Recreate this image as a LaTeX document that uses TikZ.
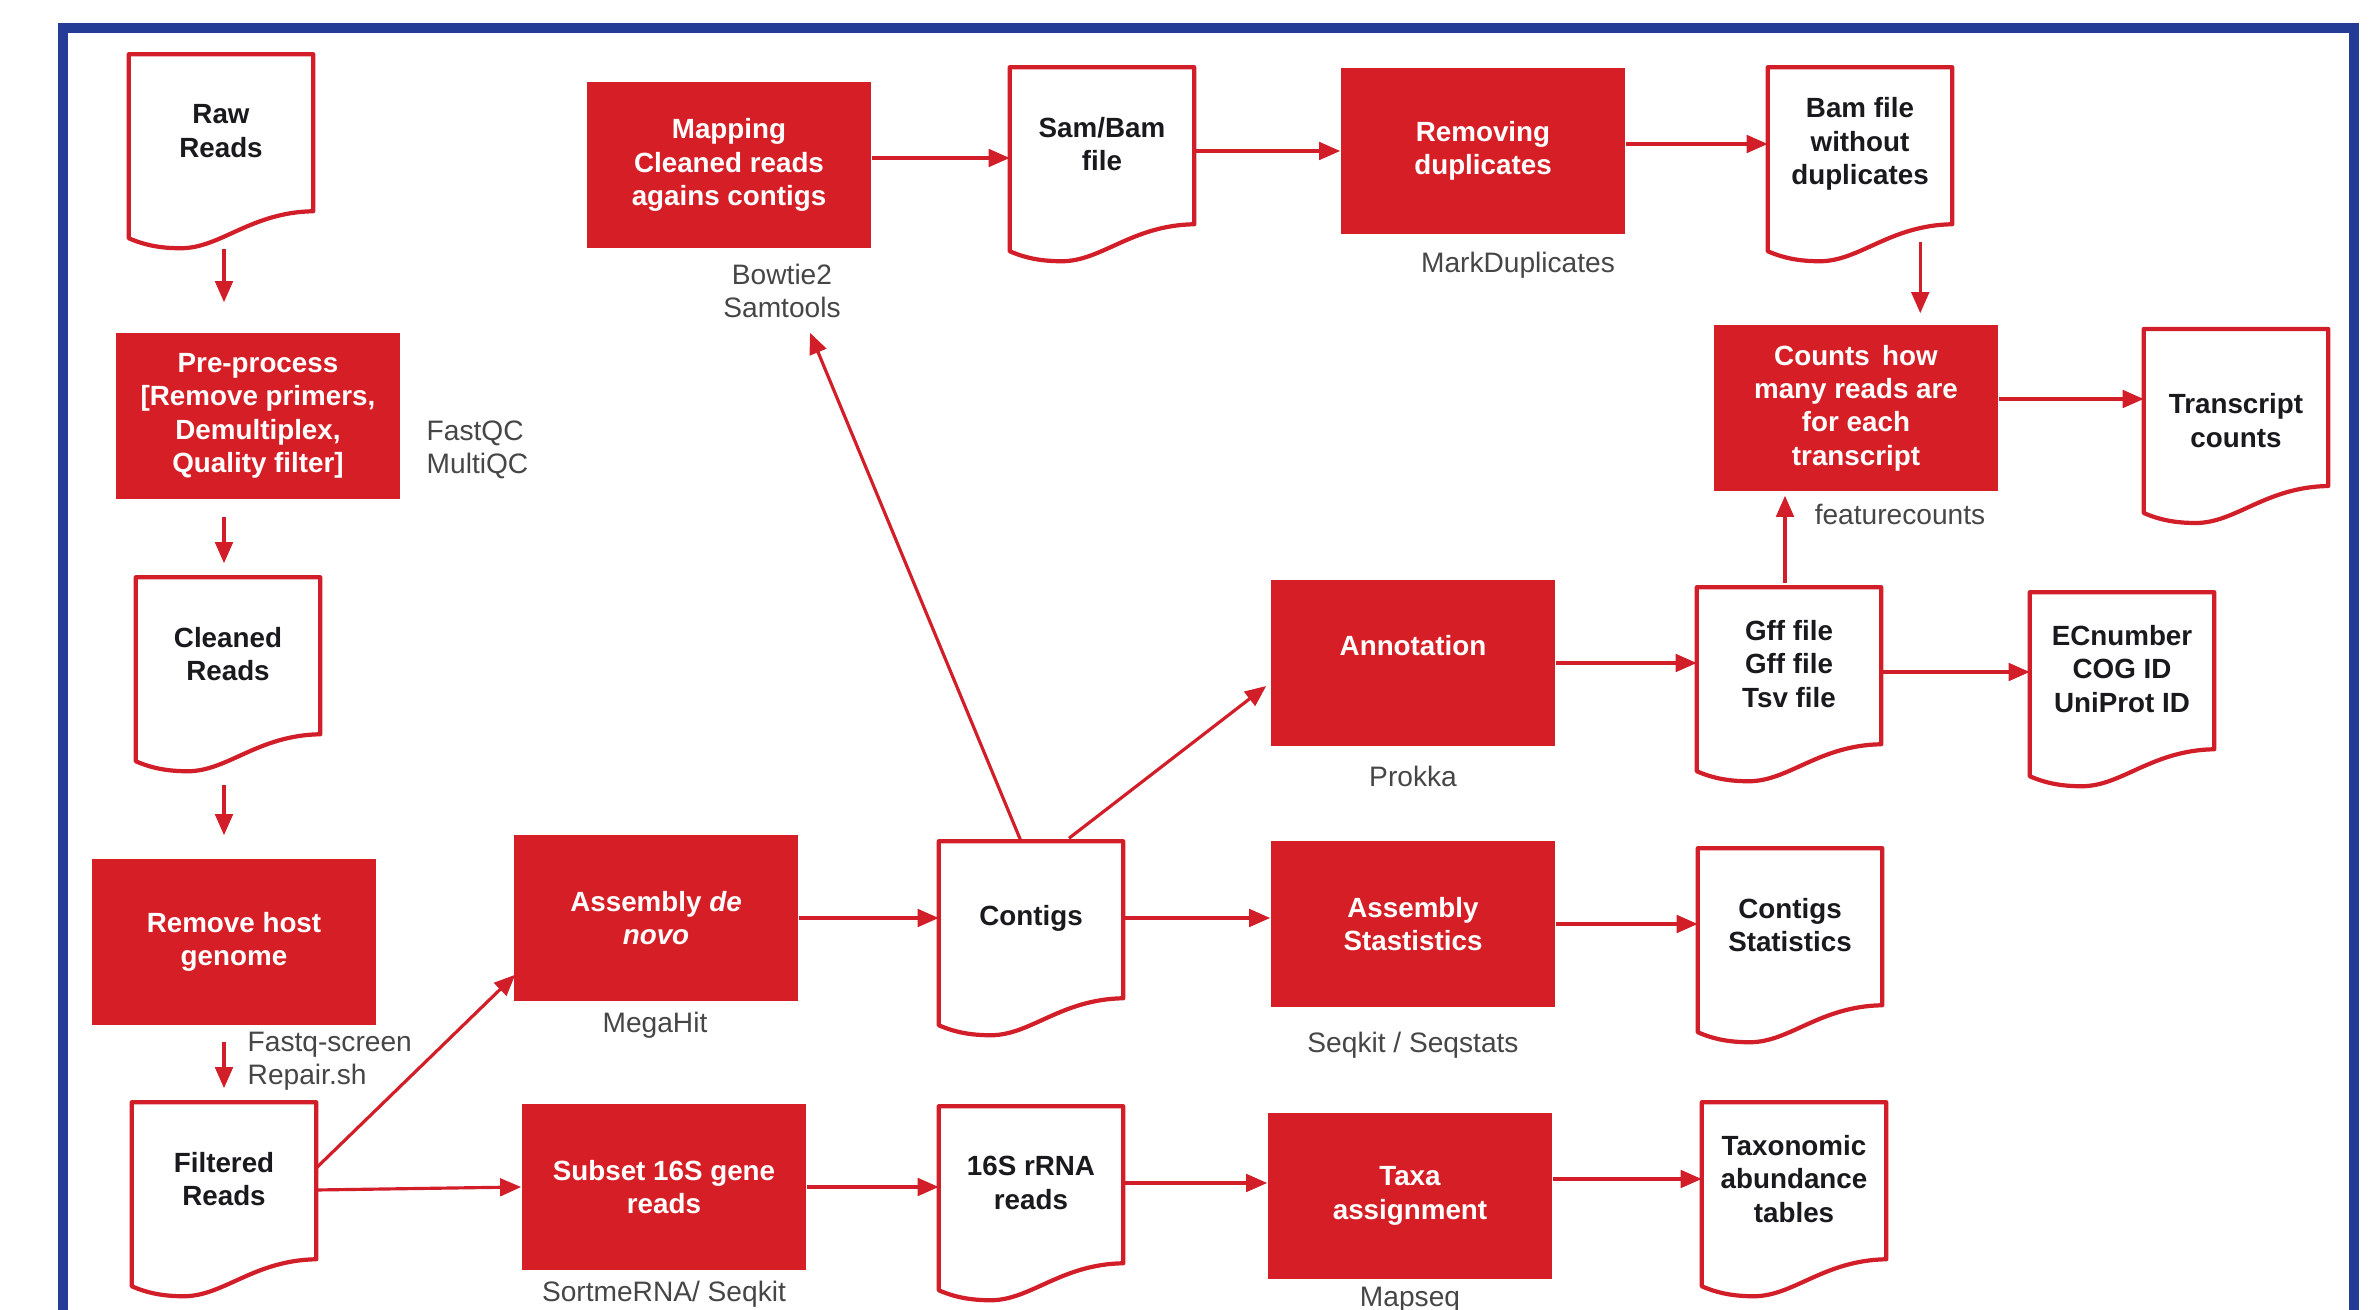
\documentclass[tikz,border=0pt]{standalone}
\usepackage{fontspec}
\setmainfont{Liberation Sans}
\usetikzlibrary{arrows.meta,calc}
\definecolor{boxred}{RGB}{214,30,38}
\definecolor{linered}{RGB}{210,30,40}
\definecolor{frameblue}{RGB}{36,60,150}
\definecolor{labelgray}{RGB}{70,70,70}
\definecolor{doctext}{RGB}{25,25,30}
\newcommand\docoutline[1]{%
  \draw[docline] ($(#1.north east)+(0,157)$) -- (#1.north east) -- (#1.north west) -- ($(#1.north west)+(0,184)$)
    .. controls ($(#1.north west)+(16,191)$) and ($(#1.north west)+(32,194)$) .. ($(#1.north west)+(52,194)$)
    .. controls ($(#1.north west)+(92,194)$) and ($(#1.north west)+(122,158)$) .. ($(#1.north east)+(0,157)$) -- cycle;}
\tikzset{
  procbox/.style={fill=boxred, draw=none, minimum width=2.84cm, minimum height=1.66cm,
    inner sep=0pt, align=center, text=white, font=\bfseries\fontsize{7.9}{9.5}\selectfont},
  docnode/.style={draw=none, minimum width=1.83cm, minimum height=1.52cm, inner sep=0pt,
    align=center, text=doctext, font=\bfseries\fontsize{7.9}{9.5}\selectfont},
  docline/.style={draw=linered, line width=1.2pt, line join=round},
  toollabel/.style={inner sep=0pt, align=center, text=labelgray, font=\fontsize{8}{9.5}\selectfont},
  arr/.style={draw=linered, line width=0.9pt, -{Triangle[length=6pt,width=5pt]}},
}
\begin{document}
\begin{tikzpicture}[x=0.01cm, y=-0.01cm]
\useasboundingbox (0,0) rectangle (2378,1310);
\fill[white] (0,0) rectangle (2378,1310);
% frame
\draw[frameblue, line width=3.1pt] (63,1310) -- (63,28) -- (2354,28) -- (2354,1310);

% documents
\node[docnode] (raw) at (221,131) {Raw\\Reads};
\node[docnode] (cleaned) at (228,654) {Cleaned\\Reads};
\node[docnode] (filtered) at (224,1179) {Filtered\\Reads};
\node[docnode] (sambam) at (1102,144) {Sam/Bam\\file};
\node[docnode] (bamnodup) at (1860,144) {Bam file\\without\\duplicates};
\node[docnode, minimum height=1.82cm, anchor=north] (transcript) at (2236,329) {Transcript\\counts};
\node[docnode] (gff) at (1789,664) {Gff file\\Gff file\\Tsv file};
\node[docnode] (ec) at (2122,669) {ECnumber\\COG ID\\UniProt ID};
\node[docnode] (contigs) at (1031,918) {Contigs};
\node[docnode] (cstats) at (1790,925) {Contigs\\Statistics};
\node[docnode] (rrna) at (1031,1183) {16S rRNA\\reads};
\node[docnode] (taxo) at (1794,1179) {Taxonomic\\abundance\\tables};
\foreach \d in {raw,cleaned,filtered,sambam,bamnodup,transcript,gff,ec,contigs,cstats,rrna,taxo}
  {\docoutline{\d}}

% process boxes
\node[procbox] (pre) at (258,416) {Pre-process\\{[}Remove primers,\\Demultiplex,\\Quality filter]};
\node[procbox] (host) at (234,942) {Remove host\\genome};
\node[procbox] (mapping) at (729,165) {Mapping\\Cleaned reads\\agains contigs};
\node[procbox] (remdup) at (1483,151) {Removing\\duplicates};
\node[procbox] (counts) at (1856,408) {Counts\, how\\many reads are\\for each\\transcript};
\node[procbox, text height=6pt, text depth=10.4pt] (annot) at (1413,663) {Annotation};
\node[procbox] (asm) at (656,918) {Assembly \textit{de}\\\textit{novo}};
\node[procbox] (astats) at (1413,924) {Assembly\\Stastistics};
\node[procbox] (subset) at (664,1187) {Subset 16S gene\\reads};
\node[procbox] (taxa) at (1410,1196) {Taxa\\assignment};

% tool labels
\node[toollabel, anchor=west, align=left] (fastqc) at (426,450) {FastQC\\MultiQC};
\node[toollabel] (bowtie) at (782,291) {Bowtie2\\Samtools};
\node[toollabel] (markdup) at (1518,265) {MarkDuplicates};
\node[toollabel] (featc) at (1900,514) {featurecounts};
\node[toollabel] (prokka) at (1413,776) {Prokka};
\node[toollabel] (megahit) at (655,1025) {MegaHit};
\node[toollabel] (seqkit) at (1413,1045) {Seqkit / Seqstats};
\node[toollabel, anchor=west, align=left] (fastqs) at (247,1061) {Fastq-screen\\Repair.sh};
\node[toollabel] (sortme) at (664,1294) {SortmeRNA/ Seqkit};
\node[toollabel] (mapseq) at (1410,1300) {Mapseq};

% left column arrows
\draw[arr] ($(raw.north)+(3,195)$) -- ($(raw.north -| filtered.north)+(0,248)$);
\draw[arr] ($(pre.south -| filtered.south)+(0,17)$) -- ($(cleaned.north -| filtered.north)+(0,-14)$);
\draw[arr] ($(cleaned.north -| filtered.north)+(0,208)$) -- ($(host.north -| filtered.north)+(0,-23)$);
\draw[arr] ($(host.south -| filtered.south)+(0,16)$) -- ($(filtered.north)+(0,-14)$);

% from filtered reads
\draw[arr] ($(filtered.east)+(0,-11)$) -- ($(asm.south west)+(2,-27)$);
\draw[arr] ($(filtered.east)+(0,11)$) -- (subset.west);
\draw[arr] (asm.east) -- (asm.east -| contigs.west);
\draw[arr] (subset.east) -- (subset.east -| rrna.west);

% from contigs
\coordinate (bowtip) at ($(bowtie.south)+(28,14)$);
\draw[arr] ($(contigs.north)+(-10,0)$) -- (bowtip);
\draw[arr] ($(contigs.north)+(38,-3)$) -- ($(annot.west)+(-4,23)$);
\draw[arr] (contigs.east) -- (contigs.east -| astats.west);
\draw[arr] (astats.east) -- (astats.east -| cstats.west);
\draw[arr] (rrna.east) -- (rrna.east -| taxa.west);
\draw[arr] (taxo.west -| taxa.east) -- (taxo.west);

% annotation branch
\draw[arr] (annot.east) -- (annot.east -| gff.west);
\draw[arr] ($(gff.east)+(0,8)$) -- ($(gff.east -| ec.west)+(0,8)$);
\draw[arr] ($(gff.north)+(-4,-4)$) -- ($(gff.north |- counts.south)+(-4,4)$);

% top row
\draw[arr] ($(mapping.east)+(0,-7)$) -- ($(mapping.east -| sambam.west)+(0,-7)$);
\draw[arr] (remdup.west -| sambam.east) -- (remdup.west);
\draw[arr] (bamnodup.west -| remdup.east) -- (bamnodup.west);
\draw[arr] ($(bamnodup.north east)+(-32,175)$) -- ($(bamnodup.north east |- counts.north)+(-32,-11)$);
\draw[arr] ($(counts.east)+(0,-9)$) -- ($(counts.east -| transcript.west)+(0,-9)$);
\end{tikzpicture}
\end{document}
